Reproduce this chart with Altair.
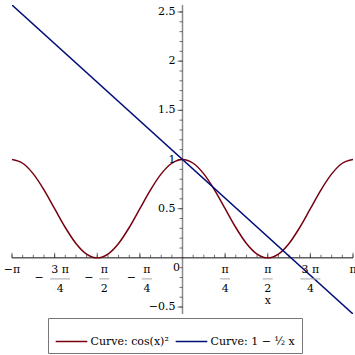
import altair as alt
import pandas as pd

# ---- data ----
curve_x = [-3.1416, -2.9452, -2.7489, -2.5525, -2.3562, -2.1598, -1.9635, -1.7671,
           -1.5708, -1.3744, -1.1781, -0.9817, -0.7854, -0.5890, -0.3927, -0.1963,
           0.0, 0.1963, 0.3927, 0.5890, 0.7854, 0.9817, 1.1781, 1.3744,
           1.5708, 1.7671, 1.9635, 2.1598, 2.3562, 2.5525, 2.7489, 2.9452, 3.1416]
curve_y = [1.0, 0.9619, 0.8536, 0.6913, 0.5, 0.3087, 0.1464, 0.0381,
           0.0, 0.0381, 0.1464, 0.3087, 0.5, 0.6913, 0.8536, 0.9619,
           1.0, 0.9619, 0.8536, 0.6913, 0.5, 0.3087, 0.1464, 0.0381,
           0.0, 0.0381, 0.1464, 0.3087, 0.5, 0.6913, 0.8536, 0.9619, 1.0]
line_x = [-3.1416, 3.1416]
line_y = [2.5708, -0.5708]
series_names = ["Curve: cos(x)²", "Curve: 1 − ½ x"]
series_colors = ["#78000E", "#000E78"]

x_domain = [-3.1416, 3.1416]
y_domain = [-0.5708, 2.5708]

x_minor_ticks = [-3.1416, -2.9452, -2.7489, -2.5525, -2.3562, -2.1598, -1.9635, -1.7671,
                 -1.5708, -1.3744, -1.1781, -0.9817, -0.7854, -0.5890, -0.3927, -0.1963,
                 0.1963, 0.3927, 0.5890, 0.7854, 0.9817, 1.1781, 1.3744,
                 1.5708, 1.7671, 1.9635, 2.1598, 2.3562, 2.5525, 2.7489, 2.9452, 3.1416]
x_major_ticks = [-3.1416, -2.3562, -1.5708, -0.7854, 0.7854, 1.5708, 2.3562, 3.1416]
y_minor_ticks = [-0.5, -0.4, -0.3, -0.2, -0.1, 0.1, 0.2, 0.3, 0.4, 0.5, 0.6, 0.7, 0.8, 0.9,
                 1.0, 1.1, 1.2, 1.3, 1.4, 1.5, 1.6, 1.7, 1.8, 1.9, 2.0, 2.1, 2.2, 2.3, 2.4, 2.5]
y_major_ticks = [-0.5, 0.5, 1.0, 1.5, 2.0, 2.5]
y_labels = ["−0.5", "0.5", "1", "1.5", "2", "2.5"]

x_end_vals = [-3.1416, 3.1416]
x_end_text = ["−π", "π"]
frac_vals = [-2.3562, -1.5708, -0.7854, 0.7854, 1.5708, 2.3562]
frac_num = ["3 π", "π", "π", "π", "π", "3 π"]
frac_den = ["4", "2", "4", "4", "2", "4"]
origin_label = ["0"]
axis_title = ["x"]
axis_title_at = [1.5708]

# ---- tables ----
curves = pd.concat([
    pd.DataFrame({"x": curve_x, "y": curve_y, "series": series_names[0]}),
    pd.DataFrame({"x": line_x, "y": line_y, "series": series_names[1]}),
])
xminor_df = pd.DataFrame({"v": x_minor_ticks})
xmajor_df = pd.DataFrame({"v": x_major_ticks})
yminor_df = pd.DataFrame({"v": y_minor_ticks})
ymajor_df = pd.DataFrame({"v": y_major_ticks, "t": y_labels})
xend_df = pd.DataFrame({"v": x_end_vals, "t": x_end_text})
frac_df = pd.DataFrame({"v": frac_vals, "num": frac_num, "den": frac_den})
origin_df = pd.DataFrame({"t": origin_label})
title_df = pd.DataFrame({"v": axis_title_at, "t": axis_title})
axis_df = pd.DataFrame({"one": [1]})

FONT = "DejaVu Serif"
FS = 11
xs = alt.Scale(domain=x_domain, nice=False, zero=False)
ys = alt.Scale(domain=y_domain, nice=False, zero=False)


def X(field):
    return alt.X(field, type="quantitative", scale=xs, axis=None)


def Y(field):
    return alt.Y(field, type="quantitative", scale=ys, axis=None)


X0 = alt.XDatum(0, scale=xs, axis=None)
Y0 = alt.YDatum(0, scale=ys, axis=None)

layers = []

# axis lines
layers.append(alt.Chart(axis_df).mark_rule(color="#8a8a8a", strokeWidth=1.5).encode(x=X0))
layers.append(alt.Chart(axis_df).mark_rule(color="#111", strokeWidth=1).encode(y=Y0))

# y ticks (to the left of the axis)
layers.append(alt.Chart(yminor_df).mark_tick(orient="horizontal", size=3, thickness=1,
                                             color="#333", xOffset=-1.5).encode(x=X0, y=Y("v")))
layers.append(alt.Chart(ymajor_df).mark_tick(orient="horizontal", size=5, thickness=1,
                                             color="#333", xOffset=-2.5).encode(x=X0, y=Y("v")))
# x ticks (above the axis)
layers.append(alt.Chart(xminor_df).mark_tick(orient="vertical", size=3, thickness=1,
                                             color="#333", yOffset=-1.5).encode(x=X("v"), y=Y0))
layers.append(alt.Chart(xmajor_df).mark_tick(orient="vertical", size=5, thickness=1,
                                             color="#333", yOffset=-2.5).encode(x=X("v"), y=Y0))

# curves
layers.append(
    alt.Chart(curves).mark_line(strokeWidth=1.5, interpolate="monotone", clip=True).encode(
        x=X("x"), y=Y("y"),
        color=alt.Color("series:N",
                        scale=alt.Scale(domain=series_names, range=series_colors),
                        legend=alt.Legend(orient="none", legendX=36, legendY=313,
                                          direction="horizontal", title=None,
                                          symbolType="stroke", symbolSize=1000,
                                          symbolStrokeWidth=1.5,
                                          labelFont=FONT, labelFontSize=FS, labelColor="black",
                                          strokeColor="#777", fillColor="white",
                                          padding=6.5, columnPadding=3, labelOffset=2)),
        order=alt.Order("series:N"),
    )
)

# y labels
layers.append(alt.Chart(ymajor_df).mark_text(font=FONT, fontSize=FS, align="right", dx=-7,
                                             color="black").encode(x=X0, y=Y("v"), text="t:N"))
# origin label
layers.append(alt.Chart(origin_df).mark_text(font=FONT, fontSize=FS, dx=-6, dy=10,
                                             color="black").encode(x=X0, y=Y0, text="t:N"))
# end labels -π and π
layers.append(alt.Chart(xend_df).mark_text(font=FONT, fontSize=FS, dy=12,
                                           color="black").encode(x=X("v"), y=Y0, text="t:N"))


def frac_layers(filt, dx, bar_w, minus_dx=None):
    base = alt.Chart(frac_df).transform_filter(filt)
    out = [
        base.mark_text(font=FONT, fontSize=FS, dx=dx, dy=12.5, color="black").encode(
            x=X("v"), y=Y0, text="num:N"),
        base.mark_tick(orient="horizontal", size=bar_w, thickness=1.5, color="#aaa",
                       xOffset=dx, yOffset=21).encode(x=X("v"), y=Y0),
        base.mark_text(font=FONT, fontSize=FS, dx=dx, dy=31, color="black").encode(
            x=X("v"), y=Y0, text="den:N"),
    ]
    if minus_dx is not None:
        out.append(base.mark_text(font=FONT, fontSize=FS, dx=minus_dx, dy=20,
                                  color="black").encode(x=X("v"), y=Y0, text=alt.value("−")))
    return out


layers += frac_layers("datum.v < 0 && length(datum.num) > 1", 5.5, 20, -15.5)
layers += frac_layers("datum.v < 0 && length(datum.num) == 1", 7, 10, -8.5)
layers += frac_layers("datum.v > 0 && length(datum.num) > 1", 0, 20)
layers += frac_layers("datum.v > 0 && length(datum.num) == 1", 0, 10)

# axis title
layers.append(alt.Chart(title_df).mark_text(font=FONT, fontSize=FS, dy=43, color="black").encode(
    x=X("v"), y=Y0, text="t:N"))

chart = alt.layer(*layers).properties(
    width=341, height=309,
    padding={"left": 12, "top": 5, "right": 2, "bottom": 41},
    autosize=alt.AutoSizeParams(type="none"),
).configure_view(stroke=None)

chart.save("out.html", embed_options={"renderer": "svg", "actions": False})
